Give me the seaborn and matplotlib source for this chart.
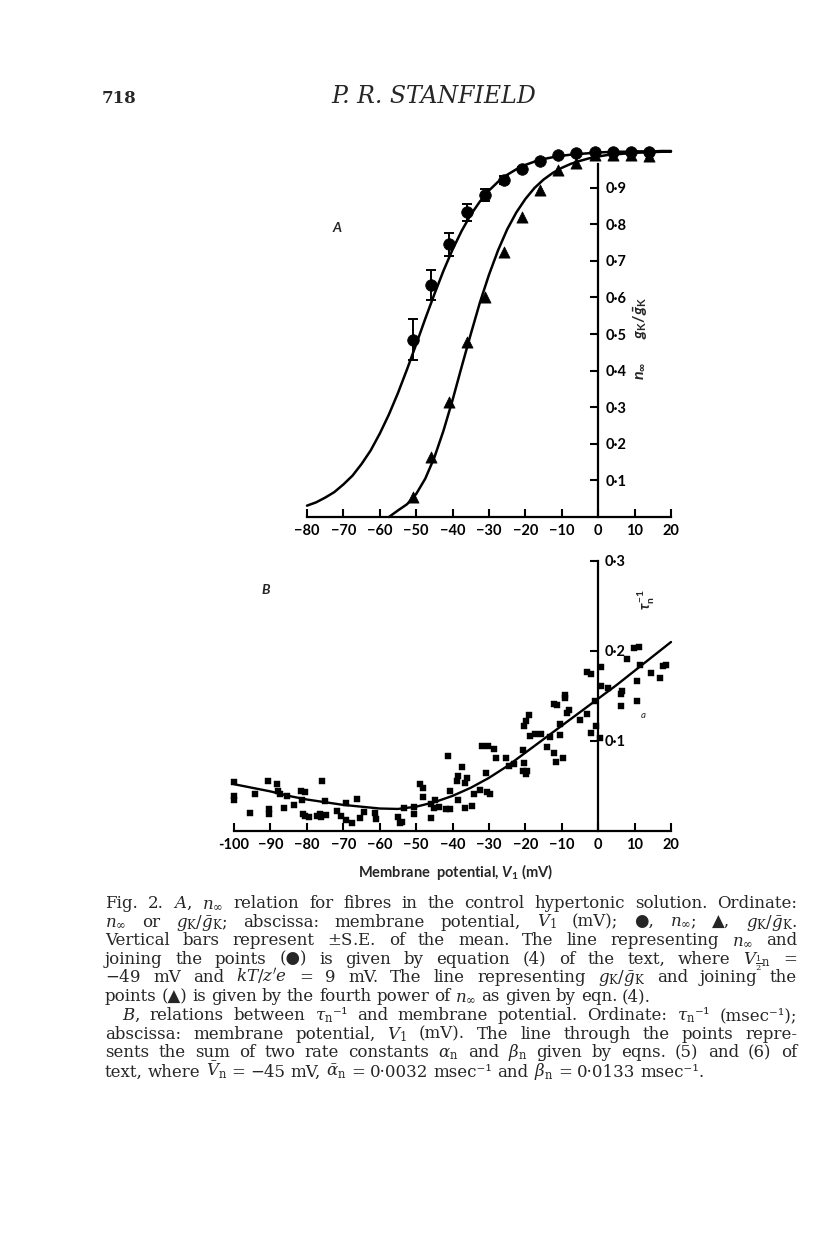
import matplotlib
matplotlib.use("Agg")
import matplotlib.pyplot as plt
import seaborn as sns

sns.set_style("white")
plt.rcParams['font.family'] = ['Lato', 'DejaVu Sans']
plt.rcParams['mathtext.fontset'] = 'custom'
plt.rcParams['mathtext.rm'] = 'Lato:bold'
plt.rcParams['mathtext.it'] = 'Lato:italic:bold'
plt.rcParams['mathtext.bf'] = 'Lato:bold'

# ---- panel A: n_inf and gK/gK-bar against membrane potential ----
v_pts = [-51, -46, -41, -36, -31, -26, -21, -16, -11, -6, -1, 4, 9, 14]
n_inf = [0.484, 0.634, 0.745, 0.833, 0.880, 0.921, 0.950, 0.973, 0.989,
         0.995, 0.998, 0.998, 0.998, 0.996]
n_se = [0.056, 0.042, 0.031, 0.023, 0.016, 0.012, 0.006]
gk_ratio = [0.056, 0.165, 0.315, 0.479, 0.602, 0.723, 0.819, 0.893, 0.948,
            0.968, 0.990, 0.990, 0.990, 0.985]

v_curve = [-80, -77.5, -75, -72.5, -70, -67.5, -65, -62.5, -60, -57.5, -55,
           -52.5, -50, -47.5, -45, -42.5, -40, -37.5, -35, -32.5, -30, -27.5,
           -25, -22.5, -20, -17.5, -15, -12.5, -10, -7.5, -5, -2.5, 0, 2.5,
           5, 7.5, 10, 12.5, 15, 17.5, 20]
n_curve = [0.031, 0.040, 0.053, 0.068, 0.089, 0.113, 0.145, 0.182, 0.228,
           0.280, 0.339, 0.404, 0.472, 0.542, 0.609, 0.673, 0.731, 0.782,
           0.826, 0.862, 0.892, 0.916, 0.935, 0.950, 0.962, 0.971, 0.978,
           0.983, 0.987, 0.990, 0.992, 0.994, 0.996, 0.997, 0.998, 0.998,
           0.999, 0.999, 0.999, 1.000, 1.000]
v_gcurve = [-57.5, -55, -52.5, -50, -47.5, -45, -42.5, -40, -37.5, -35, -32.5,
            -30, -27.5, -25, -22.5, -20, -17.5, -15, -12.5, -10, -7.5, -5,
            -2.5, 0, 2.5, 5, 7.5, 10, 12.5, 15, 17.5, 20]
g_curve = [0.000, 0.018, 0.035, 0.063, 0.105, 0.163, 0.236, 0.320, 0.411,
           0.500, 0.586, 0.662, 0.729, 0.786, 0.832, 0.869, 0.899, 0.922,
           0.940, 0.954, 0.965, 0.973, 0.980, 0.985, 0.989, 0.991, 0.993,
           0.995, 0.996, 0.997, 0.998, 0.998]

ticksA = [-80, -70, -60, -50, -40, -30, -20, -10, 0, 10, 20]
tick_labA = ['\u221280', '\u221270', '\u221260', '\u221250', '\u221240', '\u221230',
             '\u221220', '\u221210', '0', '10', '20']
yticksA = [0.1, 0.2, 0.3, 0.4, 0.5, 0.6, 0.7, 0.8, 0.9]
ylabA = ['0\u00b71', '0\u00b72', '0\u00b73', '0\u00b74', '0\u00b75', '0\u00b76',
         '0\u00b77', '0\u00b78', '0\u00b79']

# ---- panel B: 1/tau_n against membrane potential ----
tau_v = [-100, -100, -100, -95.6, -94.2, -90.7, -90.3, -90.3, -88.3, -87.8,
         -87.3, -86.4, -85.5, -83.5, -81.7, -80.5, -81.4, -81.1, -80.5, -79.3,
         -77.3, -76.5, -76.1, -74.7, -75.7, -75.0, -71.6, -70.7, -69.2, -69.2,
         -67.6, -66.1, -65.4, -64.3, -61.2, -60.9, -55.1, -54.4, -53.9, -53.2,
         -50.7, -50.7, -49.0, -48.1, -48.2, -46.0, -45.9, -45.2, -44.7, -43.8,
         -41.1, -40.8, -41.7, -40.6, -38.6, -38.6, -38.8, -37.4, -36.5, -36.0,
         -36.5, -34.6, -34.0, -32.5, -31.9, -30.2, -30.8, -30.5, -29.8, -28.6,
         -28.1, -25.2, -24.5, -23.0, -20.6, -20.4, -19.9, -20.3, -20.6, -19.9,
         -19.5, -19.0, -18.8, -17.4, -15.6, -14.0, -13.1, -12.0, -11.5, -9.6,
         -12.2, -11.3, -10.5, -10.4, -9.2, -9.0, -8.5, -8.1, -4.9, -3.0,
         -3.2, -2.1, -1.9, -0.5, 0.5, -0.9, 0.9, 0.9, 2.7, 6.3,
         6.6, 6.3, 8.0, 9.8, 11.2, 10.7, 10.7, 11.5, 14.6, 16.9,
         17.9, 18.5]
tau_rate = [0.054, 0.039, 0.035, 0.020, 0.041, 0.056, 0.024, 0.019, 0.052, 0.044,
            0.041, 0.026, 0.039, 0.029, 0.044, 0.043, 0.034, 0.019, 0.017, 0.016,
            0.017, 0.019, 0.016, 0.018, 0.056, 0.033, 0.022, 0.017, 0.012, 0.031,
            0.009, 0.036, 0.015, 0.021, 0.020, 0.013, 0.016, 0.009, 0.010, 0.026,
            0.027, 0.019, 0.052, 0.048, 0.038, 0.015, 0.030, 0.026, 0.034, 0.027,
            0.083, 0.045, 0.025, 0.024, 0.035, 0.061, 0.056, 0.071, 0.053, 0.059,
            0.026, 0.028, 0.041, 0.046, 0.094, 0.094, 0.065, 0.043, 0.041, 0.091,
            0.081, 0.081, 0.072, 0.075, 0.090, 0.117, 0.122, 0.076, 0.067, 0.063,
            0.067, 0.129, 0.106, 0.108, 0.108, 0.093, 0.104, 0.087, 0.077, 0.081,
            0.141, 0.140, 0.119, 0.107, 0.151, 0.148, 0.131, 0.135, 0.123, 0.130,
            0.177, 0.175, 0.109, 0.117, 0.103, 0.144, 0.182, 0.161, 0.159, 0.152,
            0.156, 0.139, 0.191, 0.203, 0.204, 0.167, 0.144, 0.184, 0.176, 0.170,
            0.183, 0.184]
v_tcurve = [-100, -95, -90, -85, -80, -75, -70, -65, -60, -55, -50, -45, -40,
            -35, -30, -25, -20, -15, -10, -5, 0, 5, 10, 15, 20]
t_curve = [0.052, 0.048, 0.044, 0.039, 0.035, 0.032, 0.029, 0.027, 0.025,
           0.0245, 0.027, 0.032, 0.039, 0.048, 0.059, 0.072, 0.087, 0.102,
           0.117, 0.132, 0.147, 0.162, 0.178, 0.194, 0.210]

ticksB = [-100, -90, -80, -70, -60, -50, -40, -30, -20, -10, 0, 10, 20]
tick_labB = ['-100', '\u221290', '\u221280', '\u221270', '\u221260', '\u221250',
             '\u221240', '\u221230', '\u221220', '\u221210', '0', '10', '20']
yticksB = [0.1, 0.2, 0.3]
ylabB = ['0\u00b71', '0\u00b72', '0\u00b73']

caption_A = [
    r"Fig. 2. $A$, $n_\infty$ relation for fibres in the control hypertonic solution. Ordinate:",
    r"$n_\infty$ or $g_\mathrm{K}/\bar{g}_\mathrm{K}$; abscissa: membrane potential, $V_1$ (mV); "
    "\u25cf, $n_\\infty$;  \u25b2, $g_\\mathrm{K}/\\bar{g}_\\mathrm{K}$.",
    r"Vertical bars represent $\pm$S.E. of the mean. The line representing $n_\infty$ and",
    "joining the points (\u25cf) is given by equation (4) of the text, where $V_{\\frac{1}{2}\\mathrm{n}}$ =",
    r"$-$49 mV and $kT/z'e$ = 9 mV. The line representing $g_\mathrm{K}/\bar{g}_\mathrm{K}$ and joining the",
    "points (\u25b2) is given by the fourth power of $n_\\infty$ as given by eqn. (4).",
]
caption_B = [
    "$B$, relations between $\\tau_\\mathrm{n}$\u207b\u00b9 and membrane potential. Ordinate: "
    "$\\tau_\\mathrm{n}$\u207b\u00b9 (msec\u207b\u00b9);",
    r"abscissa: membrane potential, $V_1$ (mV). The line through the points repre-",
    r"sents the sum of two rate constants $\alpha_\mathrm{n}$ and $\beta_\mathrm{n}$ given by eqns. (5) and (6) of",
    "text, where $\\bar{V}_\\mathrm{n}$ = \u221245 mV, $\\bar{\\alpha}_\\mathrm{n}$ = 0\u00b70032 "
    "msec\u207b\u00b9 and $\\bar{\\beta}_\\mathrm{n}$ = 0\u00b70133 msec\u207b\u00b9.",
]

W, H = 816, 1253
fig = plt.figure(figsize=(W / 100, H / 100), dpi=100)
fig.patch.set_facecolor('white')


def fx(px):
    return px / W


def fy(py):
    return 1 - py / H


axA = fig.add_axes([fx(307), fy(517), (671 - 307) / W, (517 - 151) / H])
axB = fig.add_axes([fx(234), fy(831), (671 - 234) / W, (831 - 561) / H])

# panel A
sns.lineplot(x=v_curve, y=n_curve, ax=axA, color='k', linewidth=1.8,
             estimator=None, sort=False, clip_on=False)
sns.lineplot(x=v_gcurve, y=g_curve, ax=axA, color='k', linewidth=1.8,
             estimator=None, sort=False, clip_on=False)
axA.errorbar(v_pts[:len(n_se)], n_inf[:len(n_se)], yerr=n_se, fmt='none',
             ecolor='k', elinewidth=1.4, capsize=3.5, capthick=1.4, zorder=3)
sns.scatterplot(x=v_pts, y=gk_ratio, ax=axA, marker='^', s=65, color='k',
                edgecolor='k', linewidth=0.5, clip_on=False, zorder=4)
sns.scatterplot(x=v_pts, y=n_inf, ax=axA, marker='o', s=70, color='k',
                edgecolor='k', linewidth=0.5, clip_on=False, zorder=5)
axA.set_xlim(-80, 20)
axA.set_ylim(0, 1)

# panel B
sns.lineplot(x=v_tcurve, y=t_curve, ax=axB, color='k', linewidth=1.7,
             estimator=None, sort=False, clip_on=False)
sns.scatterplot(x=tau_v, y=tau_rate, ax=axB, marker='s', s=22, color='k',
                edgecolor='k', linewidth=0.3, clip_on=False, zorder=4)
axB.set_xlim(-100, 20)
axB.set_ylim(0, 0.3)

for ax, xt, xl, yt, yl, ytop in [(axA, ticksA, tick_labA, yticksA, ylabA, 0.965),
                                  (axB, ticksB, tick_labB, yticksB, ylabB, 0.3)]:
    ax.set_facecolor('none')
    ax.set_xlabel('')
    ax.set_ylabel('')
    ax.spines['left'].set_visible(False)
    ax.spines['top'].set_visible(False)
    ax.spines['right'].set_position(('data', 0))
    ax.spines['right'].set_bounds(0, ytop)
    ax.spines['bottom'].set_bounds(xt[0], xt[-1])
    for s in ('right', 'bottom'):
        ax.spines[s].set_color('k')
        ax.spines[s].set_linewidth(1.6)
    ax.yaxis.tick_right()
    ax.set_xticks(xt)
    ax.set_xticklabels(xl, fontweight='bold', fontsize=10.5)
    ax.set_yticks(yt)
    ax.set_yticklabels(yl, fontweight='bold', fontsize=10.5)
    ax.tick_params(axis='x', bottom=True, direction='in', length=6, width=1.5,
                   pad=5, colors='k')
    ax.tick_params(axis='y', right=True, left=False, direction='in', length=6,
                   width=1.5, pad=5, colors='k')

# axis annotations
fig.text(fx(337), fy(228), 'A', fontsize=10, fontweight='bold', style='italic',
         ha='center', va='center')
fig.text(fx(266), fy(590), 'B', fontsize=10, fontweight='bold', style='italic',
         ha='center', va='center')
fig.text(fx(641), fy(338), r"$n_\infty$      $g_\mathrm{K}/\bar{g}_\mathrm{K}$",
         fontsize=11.5, rotation=90, ha='center', va='center')
fig.text(fx(646), fy(600), r"$\tau_\mathrm{n}^{-1}$", fontsize=10.5, rotation=90,
         ha='center', va='center')
fig.text(fx(643), fy(715), 'a', fontsize=7, style='italic', ha='center', va='center')
fig.text(fx(455), fy(872), r"Membrane  potential, $V_1$ (mV)", fontsize=10.5,
         fontweight='bold', ha='center', va='center')

# page header
serif = ['DejaVu Serif', 'DejaVu Sans']
fig.text(fx(102), fy(103), '718', fontsize=12, fontweight='bold', family=serif,
         va='baseline')
fig.text(fx(434), fy(103), 'P. R. STANFIELD', fontsize=17, style='italic',
         family=serif, ha='center', va='baseline')

# caption, justified word by word
renderer = fig.canvas.get_renderer()


def put_line(text, x0, y, x1=None, size=12.0):
    words = text.split()
    while True:
        arts = [fig.text(0, 0, w, fontsize=size, family=serif,
                         math_fontfamily='dejavuserif', va='baseline') for w in words]
        widths = [a.get_window_extent(renderer).width for a in arts]
        space = size * 100 / 72 * 0.3
        if x1 is None or len(words) < 2:
            break
        space = (x1 - x0 - sum(widths)) / (len(words) - 1)
        if space >= 3 or size < 9:
            break
        for a in arts:
            a.remove()
        size -= 0.25
    x = x0
    for a, w in zip(arts, widths):
        a.set_position((fx(x), fy(y)))
        x += w + space


y = 908
for i, line in enumerate(caption_A):
    last = i == len(caption_A) - 1
    put_line(line, 105, y, None if last else 797)
    y += 18.6
y += 0.6
for i, line in enumerate(caption_B):
    last = i == len(caption_B) - 1
    put_line(line, 122 if i == 0 else 105, y, None if last else 797)
    y += 18.6 if i < 2 else 19.2

fig.savefig('out.png', dpi=100, facecolor='white')
